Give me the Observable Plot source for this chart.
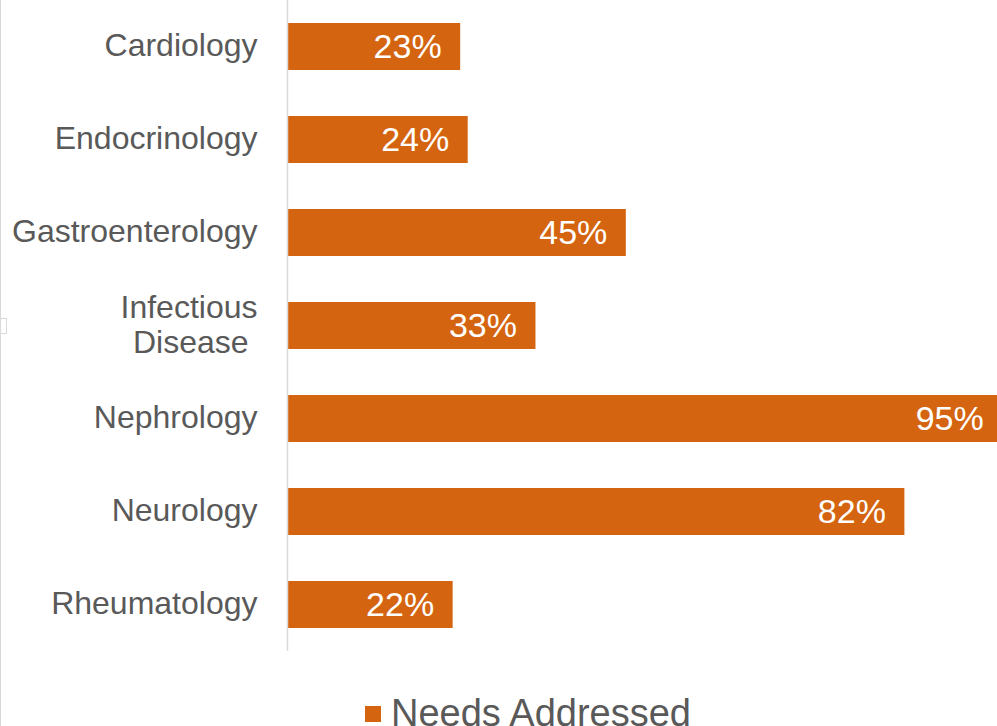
<!DOCTYPE html>
<html>
<head>
<meta charset="utf-8">
<script src="https://cdn.jsdelivr.net/npm/d3@7"></script>
<script src="https://cdn.jsdelivr.net/npm/@observablehq/plot@0.6"></script>
<style>
  html, body { margin: 0; padding: 0; background: #fff; overflow: hidden; }
  #root { position: relative; width: 997px; height: 726px; overflow: hidden; font-family: "Liberation Sans", Arial, sans-serif; }
  #edge { position: absolute; left: 0; top: 0; width: 1px; height: 726px; background: #d9d9d9; }
  #tab { position: absolute; left: 0; top: 318px; width: 6px; height: 14px; border: 1px solid #d9d9d9; border-left: none; }
  #legend { position: absolute; left: 365px; top: 692px; }
  #legend svg { margin-right: 10px !important; }
</style>
</head>
<body>
<div id="root">
  <div id="chart"></div>
  <div id="legend"></div>
  <div id="edge"></div>
  <div id="tab"></div>
</div>
<script>
const categories = ["Cardiology", "Endocrinology", "Gastroenterology", "Infectious\nDisease\u00a0", "Nephrology", "Neurology", "Rheumatology"];
const values = [23, 24, 45, 33, 95, 82, 22];
const seriesName = "Needs Addressed";
const barColor = "#D4640F";

const data = categories.map((c, i) => ({category: c, value: values[i]}));

const chart = Plot.plot({
  width: 997,
  height: 651,
  marginLeft: 287,
  marginRight: 0,
  marginTop: 0,
  marginBottom: 0,
  style: {fontFamily: "'Liberation Sans', Arial, sans-serif", background: "white", overflow: "hidden"},
  x: {domain: [0, 94.3], axis: null},
  y: {domain: categories, paddingInner: 0.5, paddingOuter: 0.24, label: null},
  marks: [
    Plot.barX(data, {y: "category", x: "value", fill: barColor, clip: true}),
    Plot.ruleX([0], {stroke: "#d9d9d9", strokeWidth: 1.5}),
    Plot.text(data, {
      y: "category", x: "value", text: d => d.value + "%",
      textAnchor: "end", dx: -19, dy: 0, fill: "white", fontSize: 34
    }),
    Plot.axisY({
      tickSize: 0, tickPadding: 30, fontSize: 32, color: "#595959",
      lineHeight: 1.1, dy: -2, label: null
    })
  ]
});
document.getElementById("chart").appendChild(chart);

const legend = Plot.legend({
  color: {domain: [seriesName], range: [barColor]},
  legend: "swatches",
  swatchSize: 16,
  style: {fontFamily: "'Liberation Sans', Arial, sans-serif", fontSize: "38px", color: "#595959", margin: 0}
});
document.getElementById("legend").appendChild(legend);
</script>
</body>
</html>
